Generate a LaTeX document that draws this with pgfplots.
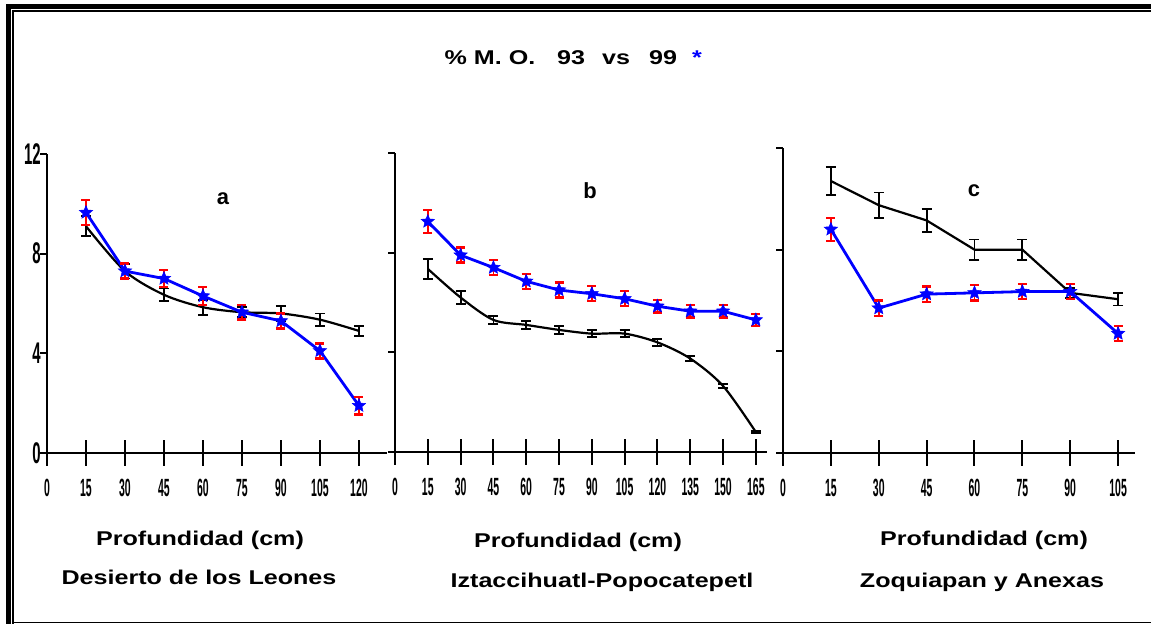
\documentclass[border=0pt]{standalone}
\usepackage{pgfplots}
\pgfplotsset{compat=1.18}
\usepackage{fontspec}
\setmainfont{Liberation Sans}
\newfontfamily\widefont[FakeStretch=1.26]{Liberation Sans}
\newfontfamily\condfont[FakeStretch=0.42]{Liberation Sans}
\newfontfamily\condfonty[FakeStretch=0.5]{Liberation Sans}

\pgfdeclareplotmark{fstar}{%
  \pgfpathmoveto{\pgfpointpolar{90}{\pgfplotmarksize}}%
  \pgfpathlineto{\pgfpointpolar{126}{0.45\pgfplotmarksize}}%
  \pgfpathlineto{\pgfpointpolar{162}{\pgfplotmarksize}}%
  \pgfpathlineto{\pgfpointpolar{198}{0.45\pgfplotmarksize}}%
  \pgfpathlineto{\pgfpointpolar{234}{\pgfplotmarksize}}%
  \pgfpathlineto{\pgfpointpolar{270}{0.45\pgfplotmarksize}}%
  \pgfpathlineto{\pgfpointpolar{306}{\pgfplotmarksize}}%
  \pgfpathlineto{\pgfpointpolar{342}{0.45\pgfplotmarksize}}%
  \pgfpathlineto{\pgfpointpolar{18}{\pgfplotmarksize}}%
  \pgfpathlineto{\pgfpointpolar{54}{0.45\pgfplotmarksize}}%
  \pgfpathclose
  \pgfusepathqfillstroke}

% panel a
\pgfplotstableread{
x y e
15 9.1 0.4
30 7.3 0.3
45 6.35 0.25
60 5.85 0.3
75 5.65 0.2
90 5.6 0.3
105 5.35 0.25
120 4.9 0.2
}\Ablack
\pgfplotstableread{
x y e
15 9.65 0.5
30 7.3 0.3
45 7.0 0.35
60 6.3 0.35
75 5.65 0.3
90 5.3 0.3
105 4.1 0.3
120 1.9 0.35
}\Ablue
% panel b
\pgfplotstableread{
x y e
15 7.35 0.4
30 6.2 0.25
45 5.3 0.15
60 5.1 0.15
75 4.9 0.15
90 4.75 0.15
105 4.75 0.15
120 4.4 0.15
135 3.75 0.1
150 2.65 0.08
165 0.8 0.05
}\Bblack
\pgfplotstableread{
x y e
15 9.25 0.45
30 7.9 0.3
45 7.4 0.3
60 6.85 0.3
75 6.5 0.3
90 6.35 0.3
105 6.15 0.3
120 5.85 0.25
135 5.65 0.25
150 5.65 0.25
165 5.3 0.25
}\Bblue
% panel c
\pgfplotstableread{
x y e
15 10.7 0.55
30 9.75 0.5
45 9.15 0.45
60 8.0 0.4
75 8.0 0.4
90 6.3 0.2
105 6.05 0.25
}\Cblack
\pgfplotstableread{
x y e
15 8.8 0.45
30 5.7 0.3
45 6.25 0.3
60 6.3 0.3
75 6.35 0.3
90 6.35 0.3
105 4.7 0.3
}\Cblue

\pgfplotsset{
  panelx/.style={scale only axis, axis lines=left,
    axis line style={-, line width=2.5bp}, enlargelimits=false, clip=false,
    ymin=0, ymax=12, ytick=\empty,
    tick align=center, major tick length=26bp,
    tick style={black, line width=2bp},
    /pgf/number format/assume math mode=true,
    xticklabel style={font=\condfont\bfseries\fontsize{25}{25}\selectfont, inner sep=0pt, yshift=-13bp}},
  panely/.style={scale only axis, axis lines=left,
    axis line style={-, line width=2.5bp}, enlargelimits=false, clip=false,
    ymin=0, ymax=12, xtick=\empty, ytick={0,4,8,12},
    tick align=outside, major tick length=7bp,
    tick style={black, line width=2bp},
    /pgf/number format/assume math mode=true,
    yticklabel style={font=\condfonty\bfseries\fontsize{30}{30}\selectfont, inner sep=0pt, xshift=1bp}},
  blk/.style={black, line width=2.2bp, no markers,
    /pgfplots/error bars/y dir=both, /pgfplots/error bars/y explicit,
    /pgfplots/error bars/error bar style={black, line width=1.8bp},
    /pgfplots/error bars/error mark options={black, rotate=90, line width=1.8bp, mark size=5bp}},
  blu/.style={blue, line width=2.8bp, mark=fstar, mark size=7bp,
    mark options={fill=blue, draw=blue, line width=0.5bp},
    /pgfplots/error bars/y dir=both, /pgfplots/error bars/y explicit,
    /pgfplots/error bars/error bar style={red, line width=1.8bp},
    /pgfplots/error bars/error mark options={red, rotate=90, line width=2.4bp, mark size=4.5bp}},
}

\newcommand{\lab}{\widefont\bfseries\fontsize{20}{24}\selectfont}

\begin{document}
\begin{tikzpicture}[x=1bp,y=1bp]
\useasboundingbox (0,0) rectangle (1151,624);
% frame
\draw[line width=5bp] (8.5,0) -- (8.5,617) -- (1151,617);
\draw[line width=1.6bp] (13,0) -- (13,613) -- (1151,613);
\draw[line width=1.5bp] (13,1.5) -- (1151,1.5);

% titles
\node[anchor=base, font=\lab] at (490,559) {\% M. O.};
\node[anchor=base, font=\lab] at (571,559) {93};
\node[anchor=base, font=\lab] at (616,559) {vs};
\node[anchor=base, font=\lab] at (663,559) {99};
\node[anchor=base, font=\lab, text=blue] at (697,559) {*};

% panel a
\begin{axis}[panely, at={(47bp,171bp)}, anchor=south west, width=340bp, height=299bp,
  xmin=0, xmax=130.8]
\end{axis}
\begin{axis}[panelx, at={(47bp,171bp)}, anchor=south west, width=340bp, height=299bp,
  xmin=0, xmax=130.8, xtick={0,15,...,120}]
\addplot[blk, smooth, tension=0.5] table[x=x, y=y, y error=e] {\Ablack};
\addplot[blu] table[x=x, y=y, y error=e] {\Ablue};
\end{axis}

% panel b
\begin{axis}[panely, yticklabels={}, at={(395bp,172bp)}, anchor=south west, width=372bp, height=299bp,
  xmin=0, xmax=170.1]
\end{axis}
\begin{axis}[panelx, at={(395bp,172bp)}, anchor=south west, width=372bp, height=299bp,
  xmin=0, xmax=170.1, xtick={0,15,...,165}]
\addplot[blk, smooth, tension=0.5] table[x=x, y=y, y error=e] {\Bblack};
\addplot[blu] table[x=x, y=y, y error=e] {\Bblue};
\end{axis}

% panel c
\begin{axis}[panely, yticklabels={}, at={(783bp,171bp)}, anchor=south west, width=352bp, height=305bp,
  xmin=0, xmax=110.3]
\end{axis}
\begin{axis}[panelx, at={(783bp,171bp)}, anchor=south west, width=352bp, height=305bp,
  xmin=0, xmax=110.3, xtick={0,15,...,105}]
\addplot[blk] table[x=x, y=y, y error=e] {\Cblack};
\addplot[blu] table[x=x, y=y, y error=e] {\Cblue};
\end{axis}

% panel letters
\node[anchor=base, font=\bfseries\fontsize{22}{26}\selectfont] at (223,419) {a};
\node[anchor=base, font=\bfseries\fontsize{22}{26}\selectfont] at (590,425) {b};
\node[anchor=base, font=\bfseries\fontsize{22}{26}\selectfont] at (974,427) {c};

% bottom labels
\node[anchor=base, font=\lab] at (200,78) {Profundidad (cm)};
\node[anchor=base, font=\lab] at (199,39) {Desierto de los Leones};
\node[anchor=base, font=\lab] at (578,76) {Profundidad (cm)};
\node[anchor=base, font=\lab] at (602,36) {Iztaccihuatl-Popocatepetl};
\node[anchor=base, font=\lab] at (984,78) {Profundidad (cm)};
\node[anchor=base, font=\lab] at (982,36) {Zoquiapan y Anexas};
\end{tikzpicture}
\end{document}
